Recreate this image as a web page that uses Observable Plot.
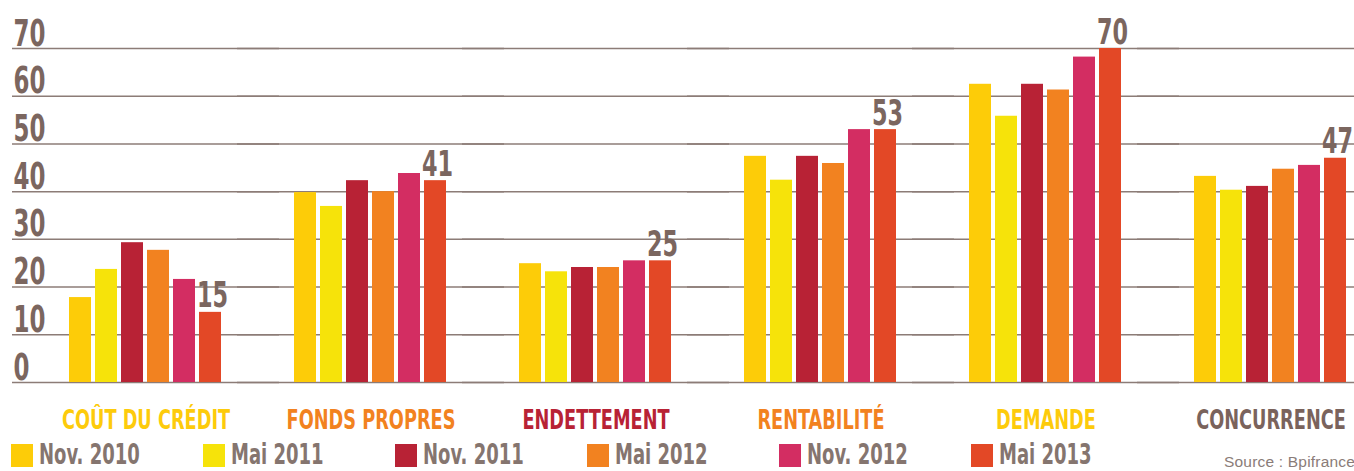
<!DOCTYPE html>
<html>
<head>
<meta charset="utf-8">
<script src="https://cdn.jsdelivr.net/npm/d3@7"></script>
<script src="https://cdn.jsdelivr.net/npm/@observablehq/plot@0.6"></script>
<style>
  html, body { margin: 0; padding: 0; background: #fff; overflow: hidden; width: 1354px; height: 471px; }
  #wrap { position: relative; width: 1354px; height: 471px; overflow: hidden; }
  #chart svg { overflow: visible; }
  #legend { position: absolute; left: 0; top: 440px; width: 1354px; height: 31px; }
  .item { position: absolute; top: 0; width: 190px; height: 31px; }
  .sw { position: absolute; left: 0; top: 4px; width: 22px; height: 23px; }
  .lt { position: absolute; left: 28px; top: 2px; font-family: "Liberation Sans Narrow", "DejaVu Sans Condensed", sans-serif; font-weight: bold; font-size: 29px; line-height: 24px; color: #85756f; white-space: nowrap; transform: scaleX(0.69); transform-origin: left center; }
  #source { position: absolute; left: 1224px; top: 454px; font-family: "Liberation Sans", Roboto, sans-serif; font-weight: 300; font-size: 15.5px; letter-spacing: 0.2px; line-height: 15px; color: #8a7c78; white-space: nowrap; }
</style>
</head>
<body>
<div id="wrap">
  <div id="chart"></div>
  <div id="legend"></div>
  <div id="source">Source : Bpifrance</div>
</div>
<script>
// ---- data ----
const groups = ["COÛT DU CRÉDIT", "FONDS PROPRES", "ENDETTEMENT", "RENTABILITÉ", "DEMANDE", "CONCURRENCE"];
const series = ["Nov. 2010", "Mai 2011", "Nov. 2011", "Mai 2012", "Nov. 2012", "Mai 2013"];
const coutDuCredit = [17.8, 23.7, 29.3, 27.7, 21.6, 14.7];
const fondsPropres = [39.8, 36.9, 42.3, 40.0, 43.8, 42.3];
const endettement  = [24.9, 23.2, 24.1, 24.1, 25.5, 25.5];
const rentabilite  = [47.4, 42.4, 47.4, 45.9, 53.0, 53.0];
const demande      = [62.5, 55.8, 62.5, 61.3, 68.2, 70.0];
const concurrence  = [43.2, 40.3, 41.1, 44.7, 45.5, 47.0];
const valueLabels  = ["15", "41", "25", "53", "70", "47"];
const yTicks = [0, 10, 20, 30, 40, 50, 60, 70];

// ---- styles ----
const seriesColors = ["#FDCC08", "#F6E30A", "#B82235", "#F28220", "#D32D62", "#E34826"];
const groupColors  = ["#FDCB0B", "#F28220", "#B82235", "#F28220", "#FDCB0B", "#7A635C"];
const condensed = '"Liberation Sans Narrow", "DejaVu Sans Condensed", sans-serif';

const groupValues = [coutDuCredit, fondsPropres, endettement, rentabilite, demande, concurrence];
const table = [];
groups.forEach((g, gi) => series.forEach((s, si) => table.push({group: g, series: s, value: groupValues[gi][si]})));
const labelRows = groups.map((g, gi) => ({group: g, series: series[series.length - 1], value: groupValues[gi][series.length - 1], label: valueLabels[gi]}));
const tickRows = yTicks.map(v => ({group: groups[0], value: v}));

const chart = Plot.plot({
  width: 1354,
  height: 440,
  marginLeft: 11,
  marginRight: 0,
  marginTop: 48,
  marginBottom: 58,
  style: {fontFamily: condensed, background: "white", overflow: "visible"},
  fx: {domain: groups, paddingInner: 0.303, paddingOuter: 0.133, align: 0.917, axis: null},
  x: {domain: series, paddingInner: 0.142, paddingOuter: 0, axis: null},
  y: {domain: [0, 70], axis: null},
  color: {domain: series, range: seriesColors},
  marks: [
    // horizontal grid lines, extended across the gaps between the groups
    Plot.ruleY(yTicks, {stroke: "#8c7c77", strokeWidth: 1.5, insetLeft: -55, insetRight: -55}),
    Plot.barY(table, {fx: "group", x: "series", y: "value", fill: "series"}),
    Plot.text(tickRows, {fx: "group", y: "value", text: d => String(d.value), frameAnchor: "left", textAnchor: "start", lineAnchor: "bottom", dx: -54, dy: -3, fontSize: 37, fontWeight: "bold", fill: "#7b665f"}),
    Plot.text(labelRows, {fx: "group", x: "series", y: "value", text: "label", lineAnchor: "bottom", dx: 2, dy: -5, fontSize: 36, fontWeight: "bold", fill: "#7b665f"}),
    Plot.text(groups, {fx: d => d, text: d => d, frameAnchor: "bottom", lineAnchor: "bottom", dy: 46, fontSize: 27, fontWeight: "bold", fill: d => groupColors[groups.indexOf(d)]})
  ]
});
document.getElementById("chart").appendChild(chart);

// condense the SVG texts horizontally around their anchor (the original uses a very narrow typeface)
chart.querySelectorAll("text").forEach(t => {
  const k = groups.includes(t.textContent) ? 0.73 : 0.69;
  const x = +(t.getAttribute("x") || 0), y = +(t.getAttribute("y") || 0);
  const prev = t.getAttribute("transform") || "";
  t.setAttribute("transform", `${prev} translate(${x},${y}) scale(${k},1) translate(${-x},${-y})`.trim());
});

// legend
const legend = document.getElementById("legend");
series.forEach((s, i) => {
  const item = document.createElement("div");
  item.className = "item";
  item.style.left = (11 + i * 192) + "px";
  const sw = document.createElement("div");
  sw.className = "sw";
  sw.style.background = seriesColors[i];
  const lt = document.createElement("div");
  lt.className = "lt";
  lt.textContent = s;
  item.appendChild(sw);
  item.appendChild(lt);
  legend.appendChild(item);
});
</script>
</body>
</html>
